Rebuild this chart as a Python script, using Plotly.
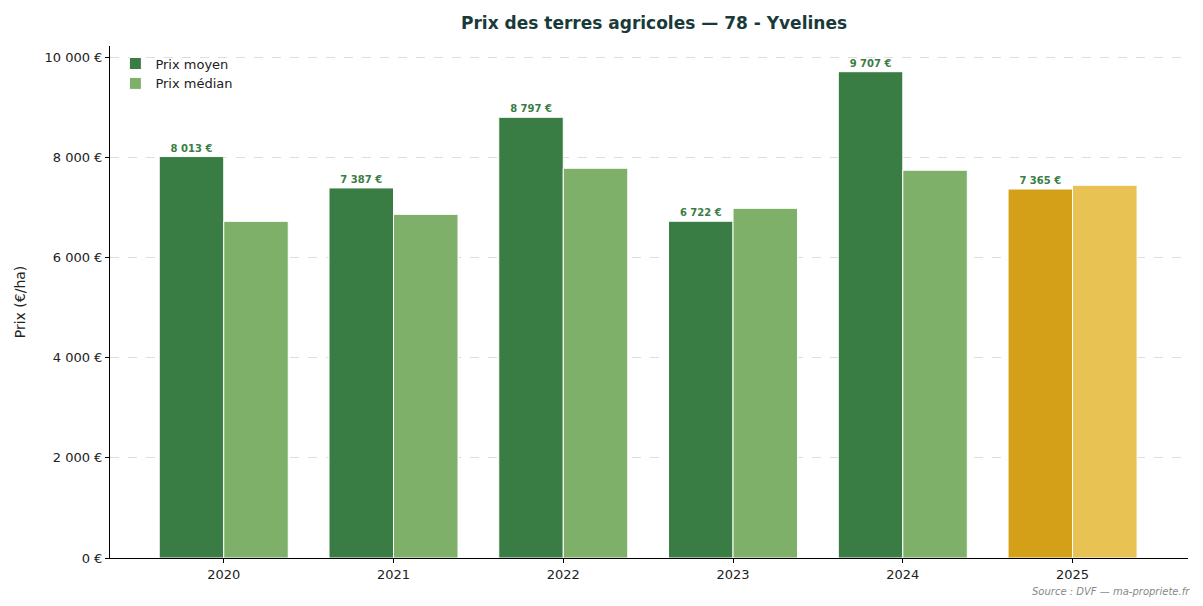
import plotly.graph_objects as go

years = ["2020", "2021", "2022", "2023", "2024", "2025"]
prix_moyen = [8013, 7387, 8797, 6722, 9707, 7365]
prix_median = [6720, 6860, 7780, 6980, 7740, 7440]
tick_vals = [0, 2000, 4000, 6000, 8000, 10000]
tick_text = ["0 €", "2 000 €", "4 000 €", "6 000 €", "8 000 €", "10 000 €"]


def fmt(v):
    return f"{v:,}".replace(",", " ") + " €"


moyen_colors = ["#3a7d44"] * 5 + ["#d4a017"]
median_colors = ["#7fb069"] * 5 + ["#e8c252"]

fig = go.Figure()
fig.add_trace(go.Bar(
    x=years, y=prix_moyen, name="Prix moyen",
    marker=dict(color=moyen_colors, line=dict(color="white", width=1)),
    text=[fmt(v) for v in prix_moyen], textposition="outside",
    textfont=dict(size=10, color="#3a7d44", family="DejaVu Sans"),
    texttemplate="<b>%{text}</b>", cliponaxis=False,
))
fig.add_trace(go.Bar(
    x=years, y=prix_median, name="Prix médian",
    marker=dict(color=median_colors, line=dict(color="white", width=1)),
))

# page body has an 8px default margin, so shift margins accordingly
fig.update_layout(
    width=1203, height=606,
    barmode="group", bargap=0.24, bargroupgap=0.0,
    plot_bgcolor="white", paper_bgcolor="white",
    font=dict(family="DejaVu Sans", size=13, color="#222"),
    title=dict(text="<b>Prix des terres agricoles — 78 - Yvelines</b>",
               x=0.537, xanchor="center", y=0.985,
               font=dict(size=17, color="#1a3a3a")),
    margin=dict(l=95, r=23, t=38, b=56),
    legend=dict(x=0.005, y=0.995, xanchor="left", yanchor="top",
                bgcolor="rgba(255,255,255,0)", font=dict(size=13)),
)
fig.update_xaxes(range=[-0.67, 5.68], showline=True, linecolor="black",
                 ticks="outside", tickcolor="black", ticklen=4)
fig.update_yaxes(range=[0, 10220], tickvals=tick_vals, ticktext=tick_text,
                 showgrid=True, gridcolor="#dddddd", griddash="dash",
                 showline=True, linecolor="black", ticks="outside",
                 tickcolor="black", ticklen=4, zeroline=False,
                 title=dict(text="Prix (€/ha)", font=dict(size=14)))
fig.add_annotation(text="<i>Source : DVF — ma-propriete.fr</i>",
                   xref="paper", yref="paper", x=1.004, y=-0.05,
                   xanchor="right", yanchor="top", showarrow=False,
                   font=dict(size=10, color="#888"))

fig.write_html("out.html")
